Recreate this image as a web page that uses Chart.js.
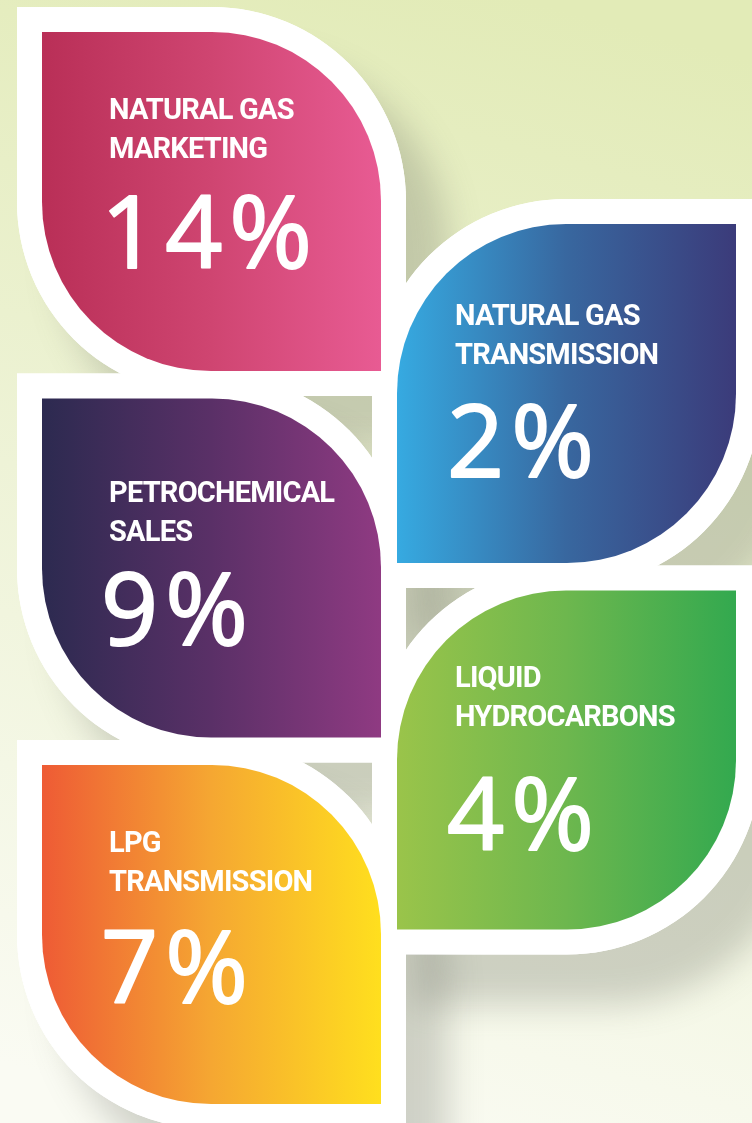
<!DOCTYPE html>
<html>
<head>
<meta charset="utf-8">
<script src="https://cdn.jsdelivr.net/npm/chart.js@4.4.0/dist/chart.umd.min.js"></script>
<style>
  html, body { margin: 0; padding: 0; }
  #wrap { position: relative; width: 752px; height: 1123px; }
</style>
</head>
<body>
<div id="wrap"><canvas id="leafChart"></canvas></div>
<script>
// segments in reading order: left, right, left, right, left
const segments = [
  ['NATURAL GAS', 'MARKETING'],
  ['NATURAL GAS', 'TRANSMISSION'],
  ['PETROCHEMICAL', 'SALES'],
  ['LIQUID', 'HYDROCARBONS'],
  ['LPG', 'TRANSMISSION']
];
const shares = [14, 2, 9, 4, 7];

// left -> right colour stops of each leaf
const leafStops = [
  ['#b92f57', '#cf4571', '#e85b93'],
  ['#36aae1', '#38679f', '#3b3b7a'],
  ['#2c2a50', '#5a3067', '#8f3a82'],
  ['#9ac44a', '#6db74e', '#33a94f'],
  ['#ee5b35', '#f5a732', '#ffdf1e']
];

// tile geometry (layout only)
const LEAF_W = 389;     // outer width incl. white rim, px
const RIM = 25;         // white rim, px
const R = 194;          // outer corner radius, px
const STAGGER = 0.524;  // right column drop, in rows
const SPAN = 1.0614;    // outer tile height, in rows
const labelDrop = [87, 101, 103, 96, 87];
const pctDrop = [236, 253, 246, 259, 238];

function col(i) { return i % 2; }
function rowTop(i) { return Math.floor(i / 2) + col(i) * STAGGER; }
function tiles() {
  return shares.map((v, i) => ({ x: col(i), y: [rowTop(i), rowTop(i) + SPAN] }));
}
function corners(i, r) {
  return col(i) === 0
    ? { topLeft: 0, topRight: r, bottomLeft: r, bottomRight: 0 }
    : { topLeft: r, topRight: 0, bottomLeft: 0, bottomRight: r };
}
function leafGradient(c) {
  const chart = c.chart;
  const stops = leafStops[c.dataIndex];
  const xs = chart.scales && chart.scales.x;
  if (!xs) return stops[1];
  const cx = xs.getPixelForValue(col(c.dataIndex));
  if (!isFinite(cx)) return stops[1];
  const half = LEAF_W / 2 - RIM;
  const g = chart.ctx.createLinearGradient(cx - half, 0, cx + half, 0);
  g.addColorStop(0, stops[0]);
  g.addColorStop(0.5, stops[1]);
  g.addColorStop(1, stops[2]);
  return g;
}

const backdrop = {
  id: 'backdrop',
  beforeDraw(chart) {
    const { ctx, width, height } = chart;
    const g = ctx.createLinearGradient(width * 0.7, 0, width * 0.3, height);
    g.addColorStop(0, '#e2ebb7');
    g.addColorStop(0.5, '#eef3d7');
    g.addColorStop(1, '#fafbf3');
    ctx.save();
    ctx.fillStyle = g;
    ctx.fillRect(0, 0, width, height);
    ctx.restore();
  }
};

// soft drop shadow only for the first (hidden) pass
const shadePass = {
  id: 'shadePass',
  beforeDatasetDraw(chart, args) {
    if (chart.data.datasets[args.index].id !== 'shade') return;
    const ctx = chart.ctx;
    ctx.save();
    ctx.shadowColor = 'rgba(100,105,95,0.28)';
    ctx.shadowBlur = 34;
    ctx.shadowOffsetX = 42;
    ctx.shadowOffsetY = 50;
  },
  afterDatasetDraw(chart, args) {
    if (chart.data.datasets[args.index].id !== 'shade') return;
    chart.ctx.restore();
  }
};

const leafText = {
  id: 'leafText',
  afterDatasetsDraw(chart) {
    const ctx = chart.ctx;
    const meta = chart.getDatasetMeta(2);
    meta.data.forEach((el, i) => {
      const left = el.x - LEAF_W / 2 + RIM;
      const top = Math.min(el.y, el.base) + RIM;
      const tx = left + (col(i) === 0 ? 67 : 58);
      ctx.save();
      ctx.fillStyle = '#ffffff';
      ctx.strokeStyle = '#ffffff';
      ctx.textAlign = 'left';
      ctx.textBaseline = 'alphabetic';
      ctx.font = '700 29px Roboto';
      ctx.letterSpacing = '-0.8px';
      segments[i].forEach((line, k) => {
        ctx.fillText(line, tx, top + labelDrop[i] + k * 39);
      });
      // big share figure, slightly thickened
      ctx.font = '400 100px "Open Sans"';
      ctx.letterSpacing = '7px';
      ctx.lineWidth = 2;
      ctx.lineJoin = 'round';
      ctx.fillText(shares[i] + '%', tx - 8, top + pctDrop[i]);
      ctx.strokeText(shares[i] + '%', tx - 8, top + pctDrop[i]);
      ctx.restore();
    });
  }
};

const common = {
  grouped: false,
  barThickness: LEAF_W,
  borderSkipped: false,
  inflateAmount: 0,
  clip: false
};

const leafChart = new Chart(document.getElementById('leafChart'), {
  type: 'bar',
  data: {
    datasets: [
      { ...common, id: 'shade', order: 3, data: tiles(), backgroundColor: '#ffffff',
        borderRadius: c => corners(c.dataIndex, R) },
      { ...common, id: 'frame', order: 2, data: tiles(), backgroundColor: '#ffffff',
        borderRadius: c => corners(c.dataIndex, R) },
      { ...common, id: 'leaf', order: 1, data: tiles(), borderWidth: RIM,
        borderColor: 'rgba(0,0,0,0)', backgroundColor: leafGradient,
        borderRadius: c => corners(c.dataIndex, R) }
    ]
  },
  options: {
    responsive: true,
    maintainAspectRatio: false,
    animation: false,
    layout: { padding: { left: 34, right: 8, top: 7, bottom: 16.5 } },
    plugins: { legend: { display: false }, tooltip: { enabled: false } },
    scales: {
      x: { type: 'linear', min: -0.5, max: 1.5, offset: false, display: false },
      y: { min: 0, max: 3, reverse: true, display: false }
    }
  },
  plugins: [backdrop, shadePass, leafText]
});
leafChart.update();
</script>
</body>
</html>
